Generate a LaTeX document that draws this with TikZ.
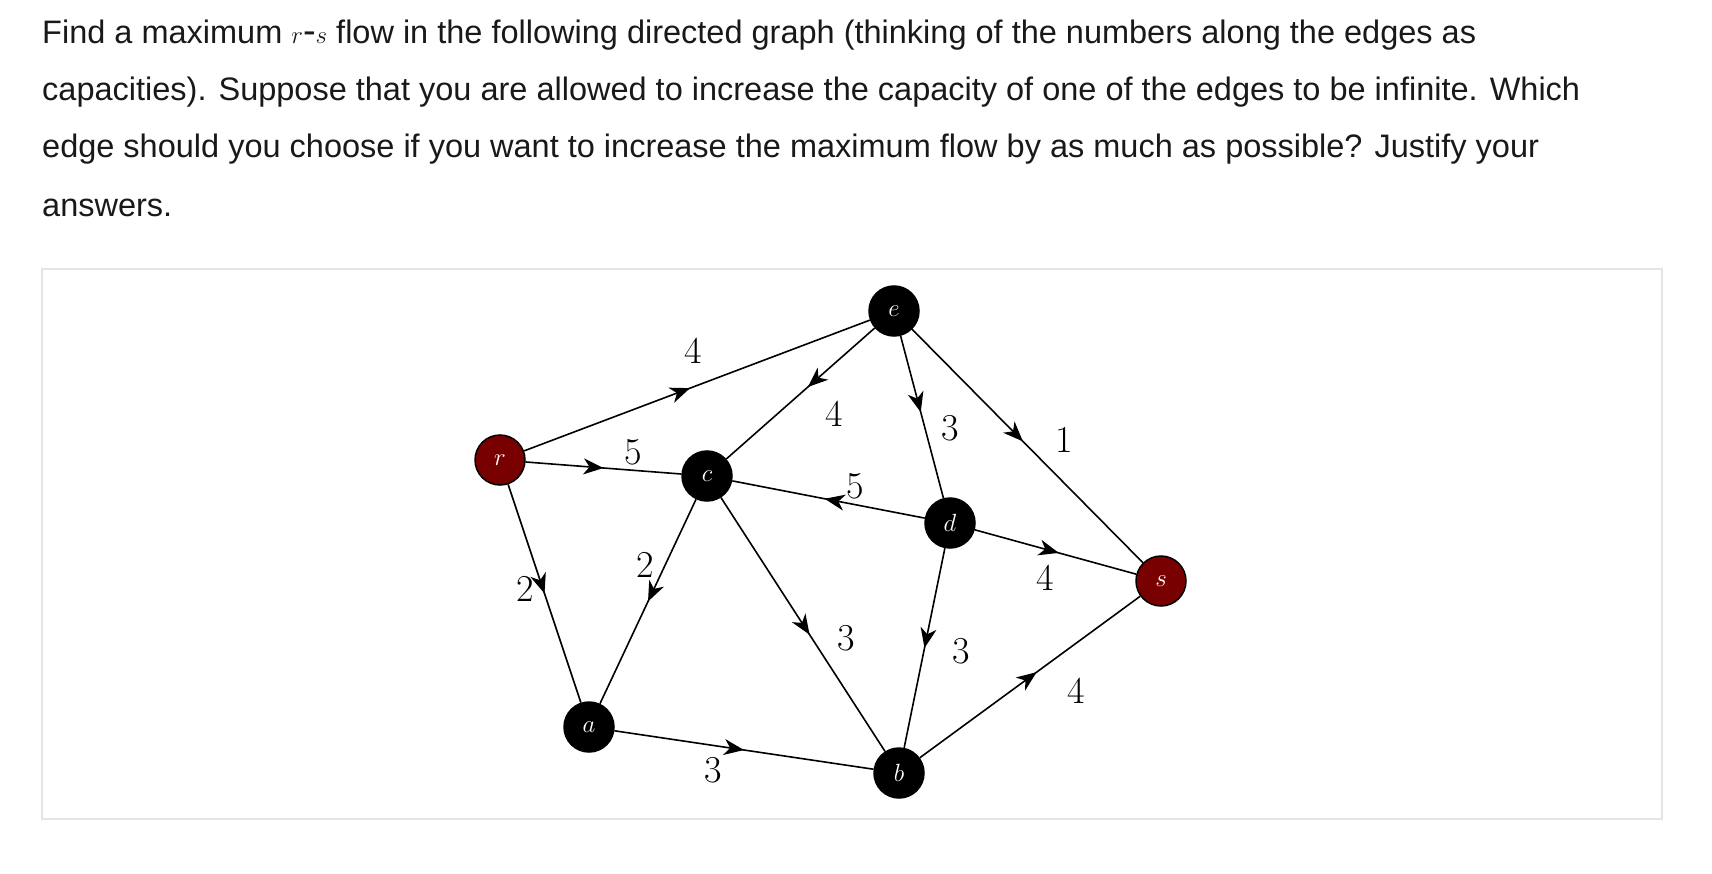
\documentclass[tikz,border=0pt]{standalone}
\usepackage{fontspec}
\setsansfont{Liberation Sans}
\usetikzlibrary{arrows.meta, decorations.markings}

\definecolor{darkred}{RGB}{120,0,0}
\tikzset{
 vtx/.style={circle, draw=black, line width=1.5pt, fill=black, text=white, minimum size=50pt, inner sep=0pt, font=\fontsize{36}{36}\selectfont},
 src/.style={vtx, fill=darkred},
 capy/.style={font=\fontsize{38}{38}\selectfont},
 flow/.style={line width=1.6pt, postaction={decorate}, decoration={markings, mark=at position #1 with {\arrow{Stealth[length=20pt,width=16pt,inset=6pt]}}}},
 flow/.default=0.5,
 txt/.style={anchor=base west, inner sep=0pt, font=\sffamily\fontsize{32.5}{32.5}\selectfont, text=black!90}
}

\begin{document}
\begin{tikzpicture}[x=1pt, y=-1pt]
\useasboundingbox (0,0) rectangle (1712,874);
% question
\node[txt] (l1) at (42,44) {Find a maximum \fontsize{38}{38}\selectfont$r$-$s$\fontsize{32.5}{32.5}\selectfont{} flow in the following directed graph (thinking of the numbers along the edges as};
\node[txt] (l2) at (42,101) {capacities). Suppose that you are allowed to increase the capacity of one of the edges to be infinite. Which};
\node[txt] (l3) at (42,158) {edge should you choose if you want to increase the maximum flow by as much as possible? Justify your};
\node[txt] (l4) at (42,217) {answers.};
\draw[black!10, line width=1.2pt] (42,269) rectangle (1662,819);

% vertices
\node[src] (r) at (500,460) {$r$};
\node[vtx] (c) at (707,476) {$c$};
\node[vtx] (e) at (894,311) {$e$};
\node[vtx] (d) at (950,523) {$d$};
\node[src] (s) at (1161,581) {$s$};
\node[vtx] (a) at (589,727) {$a$};
\node[vtx] (b) at (899,773) {$b$};

% edges
\draw[flow=0.48] (r) -- (e);
\draw[flow] (r) -- (c);
\draw[flow] (r) -- (a);
\draw[flow] (c) -- (a);
\draw[flow=0.45] (e) -- (c);
\draw[flow=0.47] (e) -- (d);
\draw[flow=0.48] (e) -- (s);
\draw[flow=0.52] (d) -- (c);
\draw[flow=0.52] (d) -- (s);
\draw[flow=0.54] (c) -- (b);
\draw[flow] (d) -- (b);
\draw[flow] (a) -- (b);
\draw[flow=0.53] (b) -- (s);

% capacities
\node[capy] (k1) at (693,351) {4};
\node[capy] (k2) at (633,452) {5};
\node[capy] (k3) at (525,589) {2};
\node[capy] (k4) at (645,565) {2};
\node[capy] (k5) at (834,414) {4};
\node[capy] (k6) at (950,428) {3};
\node[capy] (k7) at (1064,440) {1};
\node[capy] (k8) at (855,486) {5};
\node[capy] (k9) at (1045,578) {4};
\node[capy] (k10) at (846,638) {3};
\node[capy] (k11) at (961,651) {3};
\node[capy] (k12) at (713,770) {3};
\node[capy] (k13) at (1076,691) {4};
\end{tikzpicture}
\end{document}
